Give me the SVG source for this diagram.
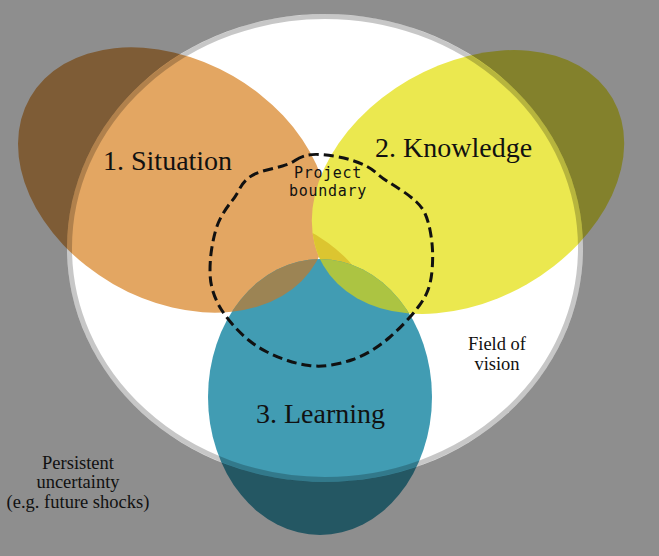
<svg xmlns="http://www.w3.org/2000/svg" width="659" height="556" viewBox="0 0 659 556">
  <defs>
    <style>
      .lbl { font-family: "Liberation Serif", "Times New Roman", serif; fill: #111; }
      .big { font-size: 28px; }
      .small { font-size: 18.5px; text-anchor: middle; }
      .mono { font-family: "DejaVu Sans Mono", "Liberation Mono", monospace; font-size: 15px; letter-spacing: 0.7px; fill: #111; text-anchor: middle; }
    </style>
    <clipPath id="clipO"><ellipse cx="173" cy="180" rx="165" ry="120" transform="rotate(30 173 180)"/></clipPath>
    <clipPath id="clipY"><ellipse cx="468" cy="182" rx="167" ry="118" transform="rotate(-30 468 182)"/></clipPath>
  </defs>

  <rect x="0" y="0" width="659" height="556" fill="#ffffff"/>

  <g id="situation">
    <ellipse cx="173" cy="180" rx="165" ry="120" transform="rotate(30 173 180)" fill="#E3A662"/>
  </g>
  <g id="knowledge">
    <ellipse cx="468" cy="182" rx="167" ry="118" transform="rotate(-30 468 182)" fill="#EBE84F"/>
    <ellipse cx="468" cy="182" rx="167" ry="118" transform="rotate(-30 468 182)" fill="#DCC530" clip-path="url(#clipO)"/>
  </g>
  <g id="learning">
    <ellipse cx="320" cy="397" rx="112" ry="138" fill="#419CB3"/>
    <ellipse cx="320" cy="397" rx="112" ry="138" fill="#9C8454" clip-path="url(#clipO)"/>
    <ellipse cx="320" cy="397" rx="112" ry="138" fill="#ACC442" clip-path="url(#clipY)"/>
  </g>

  <g id="field-of-vision">
    <path d="M0 0H659V556H0Z M67 248 a258 234 0 1 0 516 0 a258 234 0 1 0 -516 0Z" fill="#000" fill-opacity="0.443" fill-rule="evenodd"/>
    <ellipse cx="325" cy="248" rx="255.5" ry="231.5" fill="none" stroke="#000" stroke-opacity="0.22" stroke-width="5"/>
  </g>

  <g id="connectors"/>

  <g id="project-boundary">
    <path d="M295 160.5 Q300 157 306 155.5 Q312 154 320 154.5 Q328 155 336.5 156.5 Q345 158 352.5 160.5 Q360 163 366 166 Q372 169 377 173.5 Q382 178 388.5 182 Q395 186 402.5 191 Q410 196 416 201.5 Q422 207 425 213.5 Q428 220 430 230 Q432 240 432.5 250 Q433 260 432 271 Q431 282 428 290 Q425 298 419 306 Q413 314 405.5 322 Q398 330 390 337 Q382 344 372.5 350 Q363 356 353 359.5 Q343 363 331.5 365 Q320 367 309 365.5 Q298 364 287.5 360.5 Q277 357 267 352 Q257 347 248.5 340 Q240 333 233 325 Q226 317 221 309 Q216 301 213 291.5 Q210 282 210 271 Q210 260 211.5 250 Q213 240 215.5 231 Q218 222 222.5 214.5 Q227 207 231.5 201.5 Q236 196 239.5 189 Q243 182 249 177.5 Q255 173 265 170.5 Q275 168 282.5 166 Q290 164 295 160.5 Z" fill="none" stroke="#111" stroke-width="3" stroke-dasharray="10 5"/>
    <text class="mono" x="328" y="178">Project</text>
    <text class="mono" x="328" y="196">boundary</text>
  </g>

  <g id="labels">
    <text class="lbl big" x="103" y="170">1. Situation</text>
    <text class="lbl big" x="375" y="157">2. Knowledge</text>
    <text class="lbl big" x="256" y="423">3. Learning</text>
    <text class="lbl small" x="497" y="350">Field of</text>
    <text class="lbl small" x="497" y="370">vision</text>
    <text class="lbl small" x="78" y="469">Persistent</text>
    <text class="lbl small" x="78" y="488">uncertainty</text>
    <text class="lbl small" x="78" y="508">(e.g. future shocks)</text>
  </g>
</svg>
